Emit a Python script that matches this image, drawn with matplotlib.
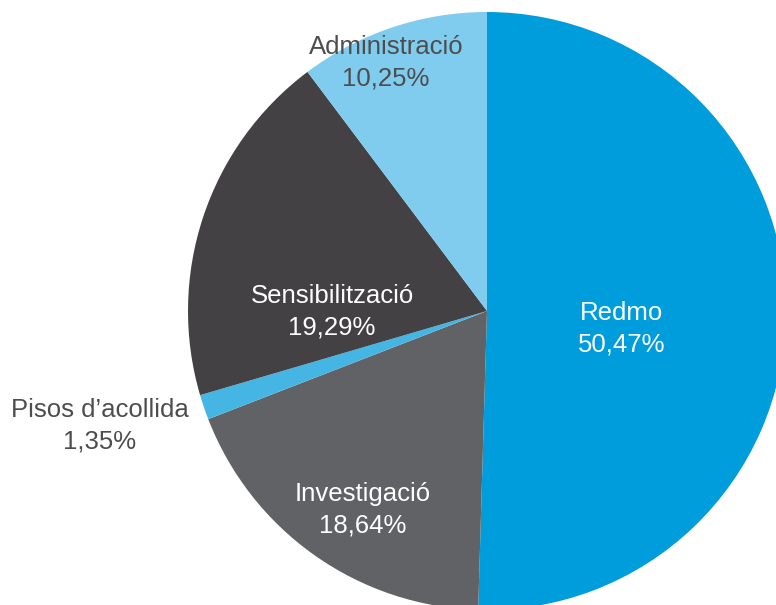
import matplotlib
matplotlib.use("Agg")
import matplotlib.pyplot as plt

# slices, clockwise from 12 o'clock
labels = ["Redmo", "Investigació", "Pisos d’acollida", "Sensibilització", "Administració"]
shares = [50.47, 18.64, 1.35, 19.29, 10.25]
colors = ["#009ddc", "#616265", "#45b6e4", "#434144", "#80ccee"]

# label placement in pixel coords (x, y from top) and text colour
label_pos = [(622, 329), (363, 510), (100, 426), (332, 312), (386, 63)]
label_col = ["white", "white", "#4d4d4f", "white", "#4d4d4f"]

W, H = 776, 605
cx, cy, r = 487, 311, 299

fig = plt.figure(figsize=(W / 100, H / 100), dpi=100)
ax = fig.add_axes([0, 0, 1, 1])

ax.pie(shares, colors=colors, startangle=90, counterclock=False,
       center=(cx, H - cy), radius=r, frame=True,
       wedgeprops=dict(linewidth=0))

ax.set_xlim(0, W)
ax.set_ylim(0, H)
ax.set_aspect("auto")
ax.axis("off")

for name, val, (x, y), c in zip(labels, shares, label_pos, label_col):
    txt = name + "\n" + f"{val:.2f}".replace(".", ",") + "%"
    ax.text(x, H - y, txt, ha="center", va="center", color=c,
            fontsize=18.5, family=["Liberation Sans", "DejaVu Sans"],
            linespacing=1.4)

fig.savefig("out.png", dpi=100)
